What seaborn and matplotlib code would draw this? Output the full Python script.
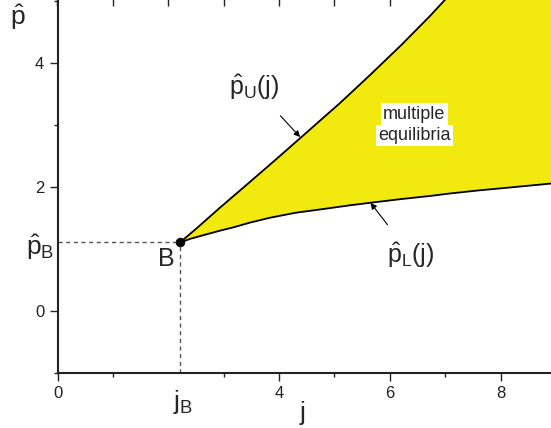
import numpy as np
import seaborn as sns
import matplotlib.pyplot as plt

# values
j_upper = [2.21, 2.5, 2.93, 3.4, 3.84, 4.02, 4.44, 5.1, 5.64, 6.2, 6.72, 7.0, 8.0, 9.0, 10.0]
p_upper = [1.10, 1.32, 1.66, 2.02, 2.36, 2.50, 2.83, 3.35, 3.80, 4.28, 4.75, 5.02, 5.9, 6.8, 7.7]

j_lower = [2.21, 2.4, 2.6, 2.93, 3.2, 3.47, 3.84, 4.3, 4.8, 5.28, 5.64, 6.2, 6.72,
           7.08, 7.6, 8.2, 8.9, 9.5, 10.0]
p_lower = [1.10, 1.16, 1.21, 1.29, 1.35, 1.42, 1.50, 1.58, 1.64, 1.70, 1.74, 1.80, 1.85,
           1.89, 1.94, 1.99, 2.05, 2.10, 2.14]

j_B, p_B = 2.21, 1.10
x_major = [0, 4, 6, 8]
x_minor = [1, 3, 5, 7, 9]
y_major = [0, 2, 4]
y_minor = [-1, 3, 5]

sns.set_theme(style="ticks")
plt.rcParams['font.family'] = ['Liberation Sans', 'DejaVu Sans']
plt.rcParams['mathtext.fontset'] = 'custom'
plt.rcParams['mathtext.rm'] = 'Liberation Sans'
plt.rcParams['mathtext.it'] = 'Liberation Sans'
plt.rcParams['mathtext.default'] = 'regular'

fig = plt.figure(figsize=(5.51, 4.28), dpi=100)
ax = fig.add_axes([57.5 / 551, 55.3 / 428, 554 / 551, 374.5 / 428])
ax.set_xlim(0, 10)
ax.set_ylim(-1, 5.04)

# shaded region between the two branches
poly_x = np.concatenate([j_upper, j_lower[::-1]])
poly_y = np.concatenate([p_upper, p_lower[::-1]])
ax.fill(poly_x, poly_y, color='#F2E90F', lw=0, zorder=1)

sns.lineplot(x=j_upper, y=p_upper, color='black', lw=1.3, ax=ax, zorder=3)
sns.lineplot(x=j_lower, y=p_lower, color='black', lw=1.3, ax=ax, zorder=3)

# dashed guides to B
ax.plot([0, j_B], [p_B, p_B], color='#555555', lw=1, ls=(0, (3, 2.5)), zorder=2)
ax.plot([j_B, j_B], [-1, p_B], color='#555555', lw=1, ls=(0, (3, 2.5)), zorder=2)
sns.scatterplot(x=[j_B], y=[p_B], color='black', s=40, edgecolor='black', ax=ax, zorder=4)

# ticks
ax.set_xticks(x_major)
ax.set_xticks(x_minor, minor=True)
ax.set_yticks(y_major)
ax.set_yticks(y_minor, minor=True)
ax.tick_params(which='both', direction='out', color='#222222', width=1,
               labelsize=12, labelcolor='#222222', bottom=True, left=True)
ax.tick_params(which='major', length=5.5, pad=4)
ax.tick_params(which='minor', length=3.2)
for s in ['left', 'bottom']:
    ax.spines[s].set_color('#222222')
    ax.spines[s].set_linewidth(1.5)
for s in ['top', 'right']:
    ax.spines[s].set_visible(False)

top = ax.secondary_xaxis('top')
top.set_xticks(x_major + [2])
top.set_xticks(x_minor, minor=True)
top.tick_params(which='both', direction='in', labeltop=False, color='#222222', width=1)
top.tick_params(which='major', length=5.5)
top.tick_params(which='minor', length=5.5)
top.spines['top'].set_visible(False)

# labels
ax.text(j_B + 0.06, -1.48, r'$j_B$', fontsize=19, ha='center', va='center', clip_on=False)
ax.text(-0.32, 1.03, r'$\hat{p}_B$', fontsize=19, ha='center', va='center', clip_on=False)
ax.text(1.96, 0.83, 'B', fontsize=18, ha='center', va='center')
ax.text(4.42, -1.65, 'j', fontsize=19, ha='center', va='center', clip_on=False)
ax.text(-0.72, 4.73, r'$\hat{p}$', fontsize=19, ha='center', va='center', clip_on=False)

ax.annotate(r'$\hat{p}_U(j)$', xy=(4.38, 2.80), xytext=(3.55, 3.6),
            fontsize=18, ha='center', va='center',
            arrowprops=dict(arrowstyle='-|>', color='black', lw=0.8,
                            mutation_scale=9, shrinkA=10, shrinkB=0))
ax.annotate(r'$\hat{p}_L(j)$', xy=(5.65, 1.74), xytext=(6.38, 0.9),
            fontsize=18, ha='center', va='center',
            arrowprops=dict(arrowstyle='-|>', color='black', lw=0.8,
                            mutation_scale=9, shrinkA=11, shrinkB=0))

box = dict(facecolor='white', edgecolor='none', pad=1.5)
ax.text(6.44, 3.17, 'multiple', fontsize=13, ha='center', va='center', bbox=box, zorder=5)
ax.text(6.44, 2.83, 'equilibria', fontsize=13, ha='center', va='center', bbox=box, zorder=5)

fig.savefig('out.png', dpi=100)
